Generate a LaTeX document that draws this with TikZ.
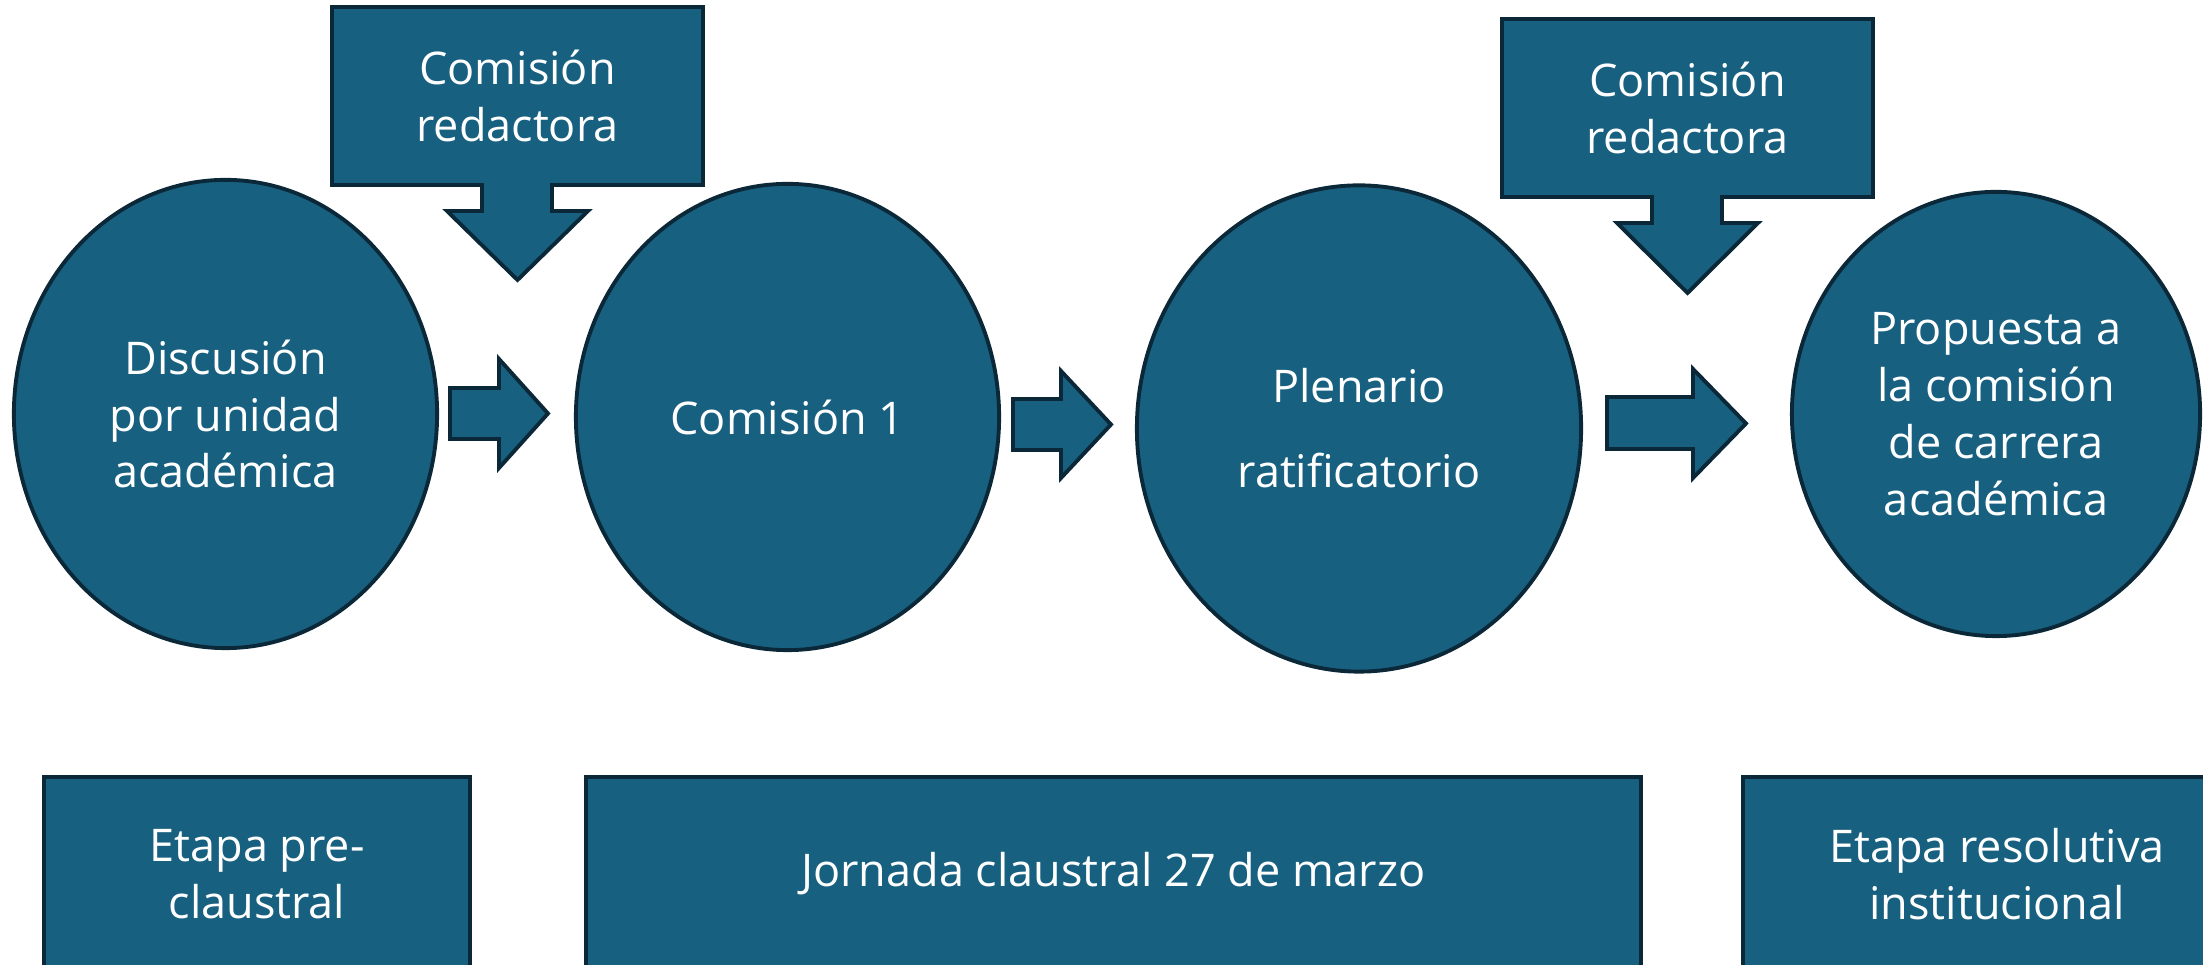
\documentclass[tikz,border=0pt]{standalone}
\usepackage{fontspec}
\setmainfont{Open Sans}
\usetikzlibrary{shapes.geometric}
\definecolor{fillc}{RGB}{24,96,128}
\definecolor{edgec}{RGB}{10,40,56}
\begin{document}
\begin{tikzpicture}[x=0.01cm,y=-0.01cm,
  shp/.style={fill=fillc,draw=edgec,line width=1.1pt,line join=miter},
  ell/.style={shp,ellipse,inner sep=0pt,text=white,align=center,font=\fontsize{12.8}{16.2}\selectfont},
  lbl/.style={text=white,align=center,font=\fontsize{12.8}{16.2}\selectfont}]
\clip (0,0) rectangle (2203,965);
% process ellipses
\node[ell,minimum width=4.23cm,minimum height=4.68cm] (e1) at (225.5,414) {Discusión\\por unidad\\académica};
\node[ell,minimum width=4.23cm,minimum height=4.66cm] (e2) at (787.5,417) {Comisión 1};
\node[ell,minimum width=4.44cm,minimum height=4.86cm] (e3) at (1359,428.5) {Plenario\\[8pt]ratificatorio};
\node[ell,minimum width=4.08cm,minimum height=4.44cm] (e4) at (1996,414) {Propuesta a\\la comisión\\de carrera\\académica};
% block arrows
\draw[shp] (450,388) -- (499,388) -- (499,359) -- (548,413.5) -- (499,468) -- (499,439) -- (450,439) -- cycle;
\draw[shp] (1013,399) -- (1061,399) -- (1061,371) -- (1111,424.5) -- (1061,478) -- (1061,450) -- (1013,450) -- cycle;
\draw[shp] (1607,397) -- (1693,397) -- (1693,369) -- (1746,423.5) -- (1693,478) -- (1693,449) -- (1607,449) -- cycle;
% callouts
\draw[shp] (332,7) -- (703,7) -- (703,185) -- (552,185) -- (552,211) -- (588,211) -- (517.5,280) -- (447,211) -- (482,211) -- (482,185) -- (332,185) -- cycle;
\node[lbl] (c1) at (517.5,96) {Comisión\\redactora};
\draw[shp] (1502,19) -- (1873,19) -- (1873,197) -- (1722,197) -- (1722,223) -- (1758,223) -- (1687.5,293) -- (1617,223) -- (1652,223) -- (1652,197) -- (1502,197) -- cycle;
\node[lbl] (c2) at (1687.5,108) {Comisión\\redactora};
% stage boxes
\draw[shp] (44,777) rectangle (470,971);
\node[lbl] (s1) at (257,874) {Etapa pre-\\claustral};
\draw[shp] (586,777) rectangle (1641,971);
\node[lbl] (s2) at (1113.5,874) {Jornada claustral 27 de marzo};
\draw[shp] (1743,777) rectangle (2251,971);
\node[lbl] (s3) at (1997,874) {Etapa resolutiva\\institucional};
\end{tikzpicture}
\end{document}
